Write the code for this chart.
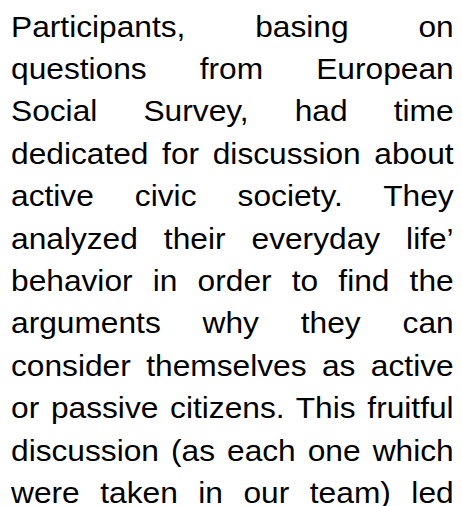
<!DOCTYPE html>
<html>
<head>
<meta charset="utf-8">
<script src="https://cdn.jsdelivr.net/npm/chart.js@4"></script>
<style>
    html, body {
        margin: 0;
        padding: 0;
        background: #fff;
        width: 462px;
        height: 506px;
        overflow: hidden;
    }
    /* the source glyphs are a bit wider than tall, so the block is stretched sideways */
    .page {
        position: absolute;
        left: 10.5px;
        top: 5.5px;
        width: 405px;
        font-family: "Liberation Sans", Arial, sans-serif;
        font-size: 29px;
        line-height: 42.4px;
        color: #000;
        transform: scale(1.093, 1);
        transform-origin: left top;
    }
    .line {
        text-align: justify;
        text-align-last: justify;
        white-space: nowrap;
    }
</style>
</head>
<body>
<div class="page" id="page"></div>
<script>
// the picture holds only a justified paragraph, one entry per printed line
const lines = [
    'Participants, basing on',
    'questions from European',
    'Social Survey, had time',
    'dedicated for discussion about',
    'active civic society. They',
    'analyzed their everyday life\u2019',
    'behavior in order to find the',
    'arguments why they can',
    'consider themselves as active',
    'or passive citizens. This fruitful',
    'discussion (as each one which',
    'were taken in our team) led'
];

function renderLines() {
    let html = '';
    for (let i = 0; i < lines.length; i++) {
        html += `<div class="line">${lines[i]}</div>`;
    }
    document.getElementById('page').innerHTML = html;
}

renderLines();
</script>
</body>
</html>
